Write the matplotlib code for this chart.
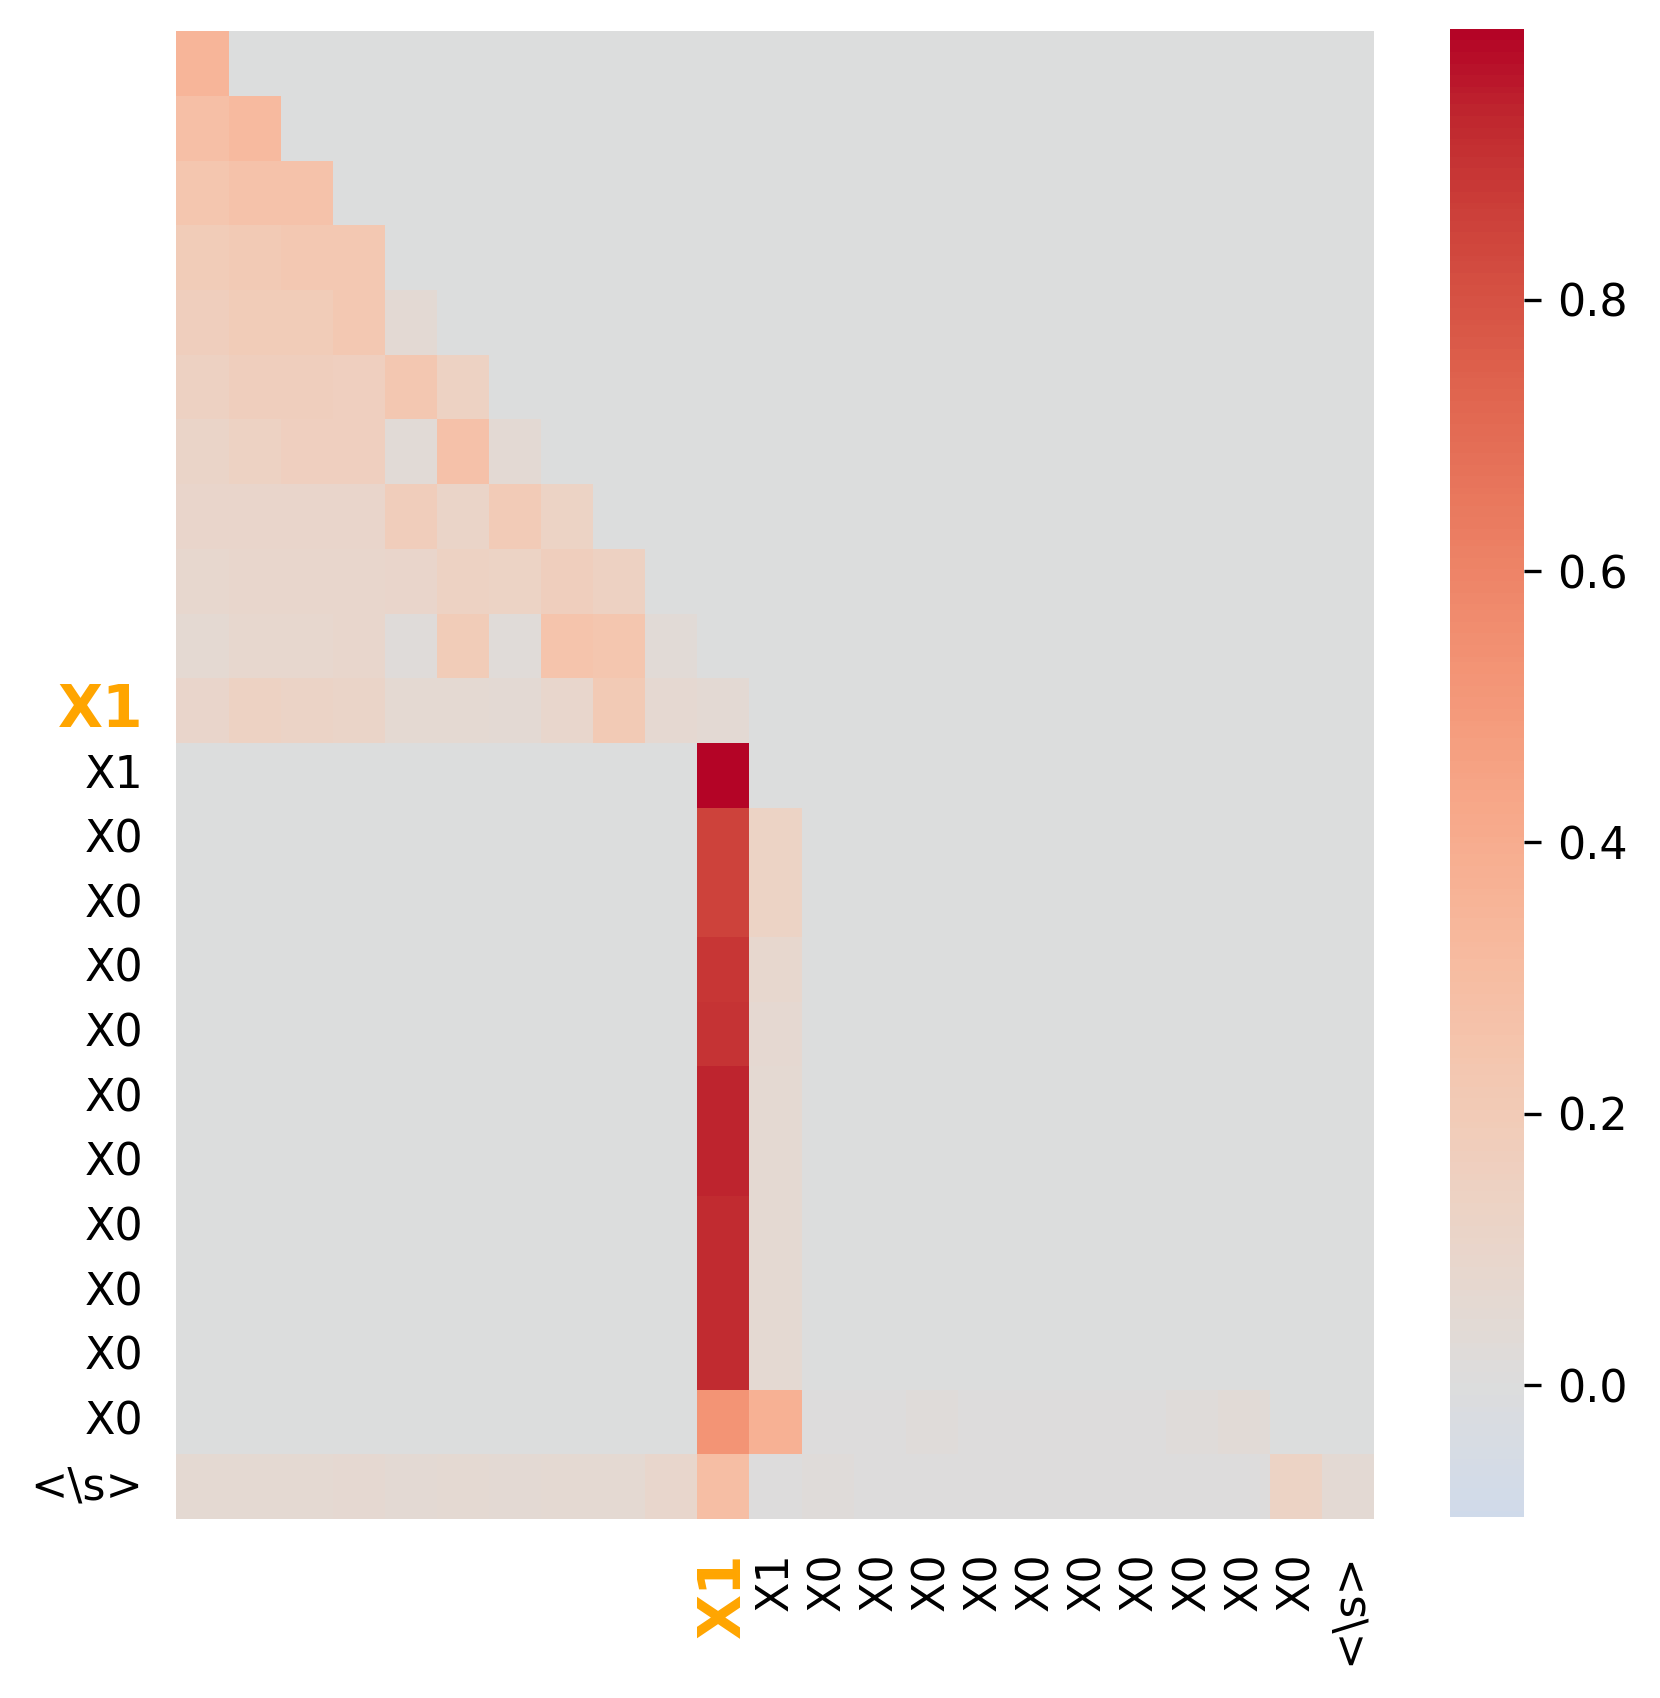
import matplotlib
matplotlib.use("Agg")
import matplotlib.pyplot as plt
import numpy as np
import seaborn as sns

# token labels (rows 0-9 and columns 0-9 carry no label)
labels = [""] * 10 + ["X1", "X1"] + ["X0"] * 10 + ["<\\s>"]
highlight = 10  # index of the highlighted X1 token

# attention weights read row by row (only the non-zero part of each row)
rows = [
    [0.35],
    [0.28, 0.32],
    [0.24, 0.26, 0.26],
    [0.19, 0.21, 0.22, 0.22],
    [0.17, 0.19, 0.19, 0.22, 0.05],
    [0.15, 0.17, 0.17, 0.16, 0.23, 0.14],
    [0.11, 0.14, 0.16, 0.16, 0.04, 0.27, 0.05],
    [0.10, 0.10, 0.10, 0.10, 0.18, 0.11, 0.20, 0.13],
    [0.08, 0.09, 0.09, 0.09, 0.10, 0.14, 0.13, 0.17, 0.15],
    [0.06, 0.08, 0.08, 0.09, 0.02, 0.19, 0.03, 0.25, 0.24, 0.04],
    [0.10, 0.14, 0.12, 0.11, 0.06, 0.06, 0.05, 0.09, 0.21, 0.07, 0.05],
]
# later rows: (start column, values)
tail_rows = [
    (10, [0.9995]),
    (10, [0.85, 0.13]),
    (10, [0.85, 0.13]),
    (10, [0.89, 0.08]),
    (10, [0.90, 0.07]),
    (10, [0.94, 0.06]),
    (10, [0.94, 0.06]),
    (10, [0.92, 0.06]),
    (10, [0.92, 0.06]),
    (10, [0.92, 0.06]),
    (10, [0.53, 0.37, 0.01, 0.01, 0.02, 0.01, 0.01, 0.01, 0.01, 0.02, 0.04]),
    (0, [0.06, 0.06, 0.06, 0.07, 0.05, 0.06, 0.05, 0.06, 0.06, 0.09, 0.29,
         0.01, 0.02, 0.01, 0.01, 0.01, 0.01, 0.01, 0.01, 0.01, 0.01, 0.13, 0.05]),
]

n = len(labels)
attn = np.zeros((n, n))
for i, r in enumerate(rows):
    attn[i, :len(r)] = r
for k, (start, r) in enumerate(tail_rows):
    attn[len(rows) + k, start:start + len(r)] = r

fig = plt.figure(figsize=(8.3, 8.49), dpi=200)
ax = fig.add_axes([0.1063, 0.1054, 0.7217, 0.8761])
cax = fig.add_axes([0.8735, 0.1066, 0.0446, 0.8764])

sns.heatmap(attn, ax=ax, cbar_ax=cax, cmap="coolwarm", center=0, vmin=-0.097,
            xticklabels=labels, yticklabels=labels)

ax.tick_params(length=0, pad=12)
ax.set_yticklabels(labels, rotation=0, fontsize=16)
ax.set_xticklabels(labels, rotation=90, fontsize=16)
for lab in (ax.get_yticklabels()[highlight], ax.get_xticklabels()[highlight]):
    lab.set_color("orange")
    lab.set_fontweight("bold")
    lab.set_fontsize(21)

cax.set_yticks([0.0, 0.2, 0.4, 0.6, 0.8])
cax.tick_params(labelsize=16, length=6, width=1.2, pad=6)

fig.savefig("out.png", dpi=200)
